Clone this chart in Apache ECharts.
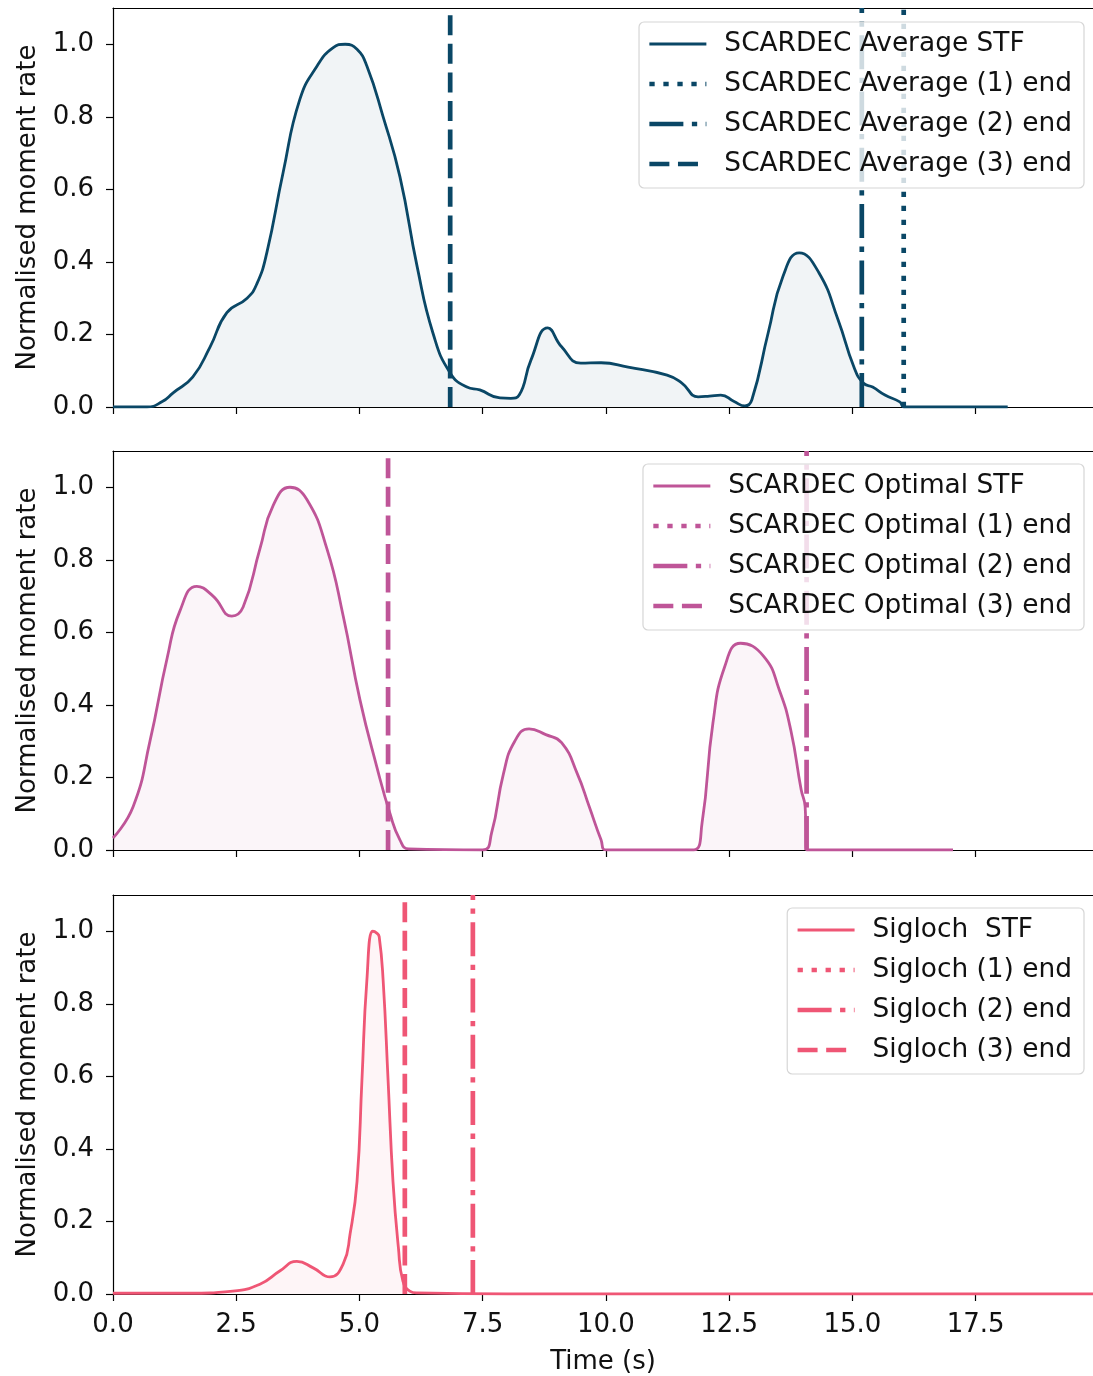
<!DOCTYPE html>
<html>
<head>
<meta charset="utf-8">
<script src="https://cdn.jsdelivr.net/npm/echarts@6/dist/echarts.min.js"></script>
<style>
  html, body { margin: 0; padding: 0; background: #ffffff; }
  #chart { width: 1093px; height: 1376px; }
</style>
</head>
<body>
<div id="chart"></div>
<script>
// ---------------- data ----------------
const timeAvg = [0, 0.69, 1.0, 1.22, 1.62, 1.97, 2.31, 2.72, 2.92, 3.12, 3.45, 3.79, 4.14, 4.46, 4.71, 4.95, 5.15, 5.48, 5.82, 6.17, 6.49, 6.84, 7.18, 7.44, 7.85, 8.07, 8.24, 8.48, 8.82, 9.1, 9.49, 9.9, 10.45, 11.24, 11.54, 11.87, 12.1, 12.33, 12.6, 12.82, 12.96, 13.29, 13.59, 13.92, 14.32, 14.71, 15.03, 15.22, 15.41, 15.66, 15.96, 16.05, 17.0, 18.15];
const rateAvg = [0, 0, 0.015, 0.039, 0.083, 0.166, 0.26, 0.30, 0.34, 0.425, 0.646, 0.848, 0.94, 0.99, 1.0, 0.986, 0.94, 0.80, 0.635, 0.387, 0.204, 0.094, 0.055, 0.047, 0.025, 0.024, 0.033, 0.13, 0.218, 0.166, 0.121, 0.122, 0.11, 0.088, 0.066, 0.028, 0.03, 0.033, 0.015, 0.003, 0.02, 0.204, 0.36, 0.425, 0.37, 0.24, 0.11, 0.066, 0.055, 0.033, 0.014, 0.0, 0, 0];

const timeOpt = [0, 0.41, 0.75, 1.1, 1.36, 1.7, 2.03, 2.41, 2.64, 2.98, 3.25, 3.59, 3.93, 4.34, 4.67, 5.01, 5.35, 5.62, 5.82, 6.0, 7.5, 7.68, 7.92, 8.15, 8.44, 8.78, 9.1, 9.42, 9.66, 9.9, 10.0, 11.78, 11.95, 12.17, 12.41, 12.73, 13.2, 13.52, 13.75, 13.96, 14.04, 14.07, 17.04];
const rateOpt = [0.033, 0.12, 0.30, 0.53, 0.66, 0.727, 0.70, 0.645, 0.67, 0.83, 0.95, 1.0, 0.967, 0.83, 0.645, 0.414, 0.23, 0.10, 0.028, 0.003, 0, 0.047, 0.21, 0.30, 0.334, 0.318, 0.296, 0.21, 0.12, 0.028, 0, 0, 0.075, 0.35, 0.506, 0.57, 0.534, 0.44, 0.33, 0.166, 0.12, 0, 0];

const timeSig = [0, 1.5, 2.43, 2.98, 3.39, 3.73, 4.06, 4.4, 4.67, 4.81, 4.95, 5.05, 5.15, 5.27, 5.35, 5.40, 5.48, 5.58, 5.68, 5.79, 5.88, 6.02, 6.17, 8.0, 20.0];
const rateSig = [0.002, 0.002, 0.008, 0.027, 0.064, 0.09, 0.072, 0.047, 0.083, 0.166, 0.31, 0.59, 0.865, 1.0, 0.995, 0.985, 0.865, 0.59, 0.31, 0.127, 0.036, 0.008, 0.003, 0, 0];

// end times: (1), (2), (3); null = not within the plotted window
const endAvg = [16.04, 15.19, 6.84];
const endOpt = [null, 14.07, 5.58];
const endSig = [null, 7.30, 5.92];

const stfLabels = ['SCARDEC Average STF', 'SCARDEC Optimal STF', 'Sigloch  STF'];
const endLabels = [
  ['SCARDEC Average (1) end', 'SCARDEC Average (2) end', 'SCARDEC Average (3) end'],
  ['SCARDEC Optimal (1) end', 'SCARDEC Optimal (2) end', 'SCARDEC Optimal (3) end'],
  ['Sigloch (1) end', 'Sigloch (2) end', 'Sigloch (3) end']
];
const xTicks = [0, 2.5, 5, 7.5, 10, 12.5, 15, 17.5];
const yTicks = [0, 0.2, 0.4, 0.6, 0.8, 1.0];
const xLabel = 'Time (s)';
const yLabel = 'Normalised moment rate';

// ---------------- style ----------------
const colors = ['#0a4766', '#bf5598', '#ef5675'];
const FONT = 'DejaVu Sans';
const FS = 26;
const X_MAX = 19.88, Y_MAX = 1.1;
const gridTops = [8, 451, 895];
const gridH = 399;
const dashStyles = [[5.3, 8.7], [34, 8.5, 5.3, 8.5], [20, 8.6]];
const legendTops = [22, 464, 908];

const panels = [
  { t: timeAvg, v: rateAvg, ends: endAvg },
  { t: timeOpt, v: rateOpt, ends: endOpt },
  { t: timeSig, v: rateSig, ends: endSig }
];

const grids = [], xAxes = [], yAxes = [], series = [], legends = [];
panels.forEach((p, i) => {
  grids.push({ left: 113, top: gridTops[i], right: 0, height: gridH, show: false });
  xAxes.push({
    type: 'value', gridIndex: i, min: 0, max: X_MAX, position: 'bottom',
    name: i === 2 ? xLabel : '', nameLocation: 'middle', nameGap: 55,
    nameTextStyle: { fontFamily: FONT, fontSize: FS, color: '#111' },
    axisLine: { show: true, onZero: false, lineStyle: { color: '#000', width: 1.2 } },
    axisTick: { show: true, inside: false, length: 7, lineStyle: { color: '#000', width: 1.2 }, customValues: xTicks },
    axisLabel: { show: i === 2, margin: 18, fontFamily: FONT, fontSize: FS, color: '#111',
      customValues: xTicks, formatter: v => Number(v).toFixed(1) },
    splitLine: { show: false }
  });
  // top spine
  xAxes.push({
    type: 'value', gridIndex: i, min: 0, max: X_MAX, position: 'top',
    axisLine: { show: true, onZero: false, lineStyle: { color: '#000', width: 1.2 } },
    axisTick: { show: false }, axisLabel: { show: false }, splitLine: { show: false }
  });
  yAxes.push({
    type: 'value', gridIndex: i, min: 0, max: Y_MAX,
    name: yLabel, nameLocation: 'middle', nameGap: 72,
    nameTextStyle: { fontFamily: FONT, fontSize: FS, color: '#111' },
    axisLine: { show: true, onZero: false, lineStyle: { color: '#000', width: 1.2 } },
    axisTick: { show: true, inside: false, length: 7, lineStyle: { color: '#000', width: 1.2 }, customValues: yTicks },
    axisLabel: { show: true, margin: 19, fontFamily: FONT, fontSize: FS, color: '#111',
      customValues: yTicks, formatter: v => Number(v).toFixed(1) },
    splitLine: { show: false }
  });
  const xi = i * 2;
  series.push({
    name: stfLabels[i], type: 'line', xAxisIndex: xi, yAxisIndex: i,
    data: p.t.map((t, k) => [t, p.v[k]]),
    symbol: 'none', smooth: 0.5, clip: true,
    lineStyle: { color: colors[i], width: 2.8 },
    itemStyle: { color: colors[i] },
    areaStyle: { color: colors[i], opacity: 0.06, origin: 'start' },
    z: 2
  });
  p.ends.forEach((e, k) => {
    series.push({
      name: endLabels[i][k], type: 'line', xAxisIndex: xi, yAxisIndex: i,
      data: e == null ? [] : [[e, 0], [e, Y_MAX]],
      symbol: 'none', clip: true,
      lineStyle: { color: colors[i], width: 4.7, type: dashStyles[k], cap: 'butt' },
      itemStyle: { color: colors[i] },
      z: 3
    });
  });
  legends.push({
    show: true, orient: 'vertical', right: 9, top: legendTops[i],
    data: [stfLabels[i]].concat(endLabels[i]),
    selectedMode: false,
    itemWidth: 57, itemHeight: 14, itemGap: 14,
    padding: [9, 12, 11, 8],
    backgroundColor: 'rgba(255,255,255,0.8)',
    borderColor: '#d6d6d6', borderWidth: 1.2, borderRadius: 5,
    itemStyle: { opacity: 0 },
    lineStyle: { width: 'inherit', type: 'inherit', color: 'inherit' },
    textStyle: { fontFamily: FONT, fontSize: 26.4, color: '#111', lineHeight: 26, padding: [0, 0, 0, 13] },
    z: 10
  });
});

const chart = echarts.init(document.getElementById('chart'), null, { renderer: 'canvas' });
chart.setOption({
  animation: false,
  backgroundColor: '#ffffff',
  grid: grids,
  xAxis: xAxes,
  yAxis: yAxes,
  legend: legends,
  series: series
});
</script>
</body>
</html>
